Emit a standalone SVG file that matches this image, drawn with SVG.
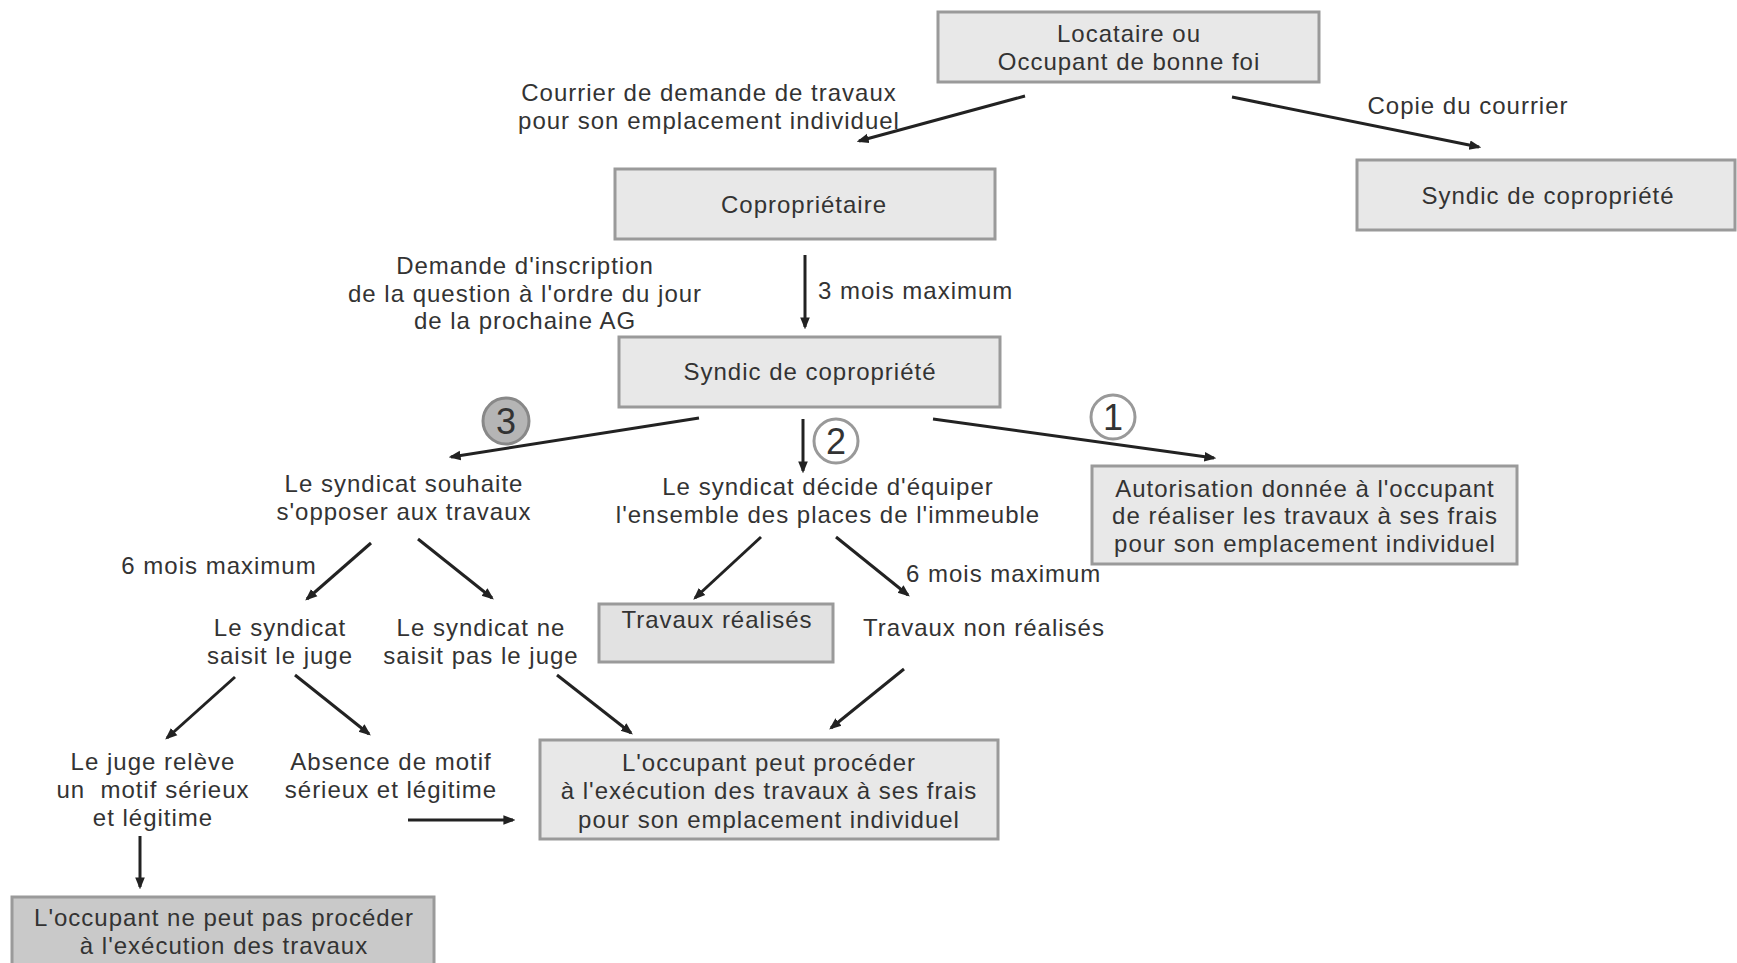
<svg xmlns="http://www.w3.org/2000/svg" width="1737" height="963" viewBox="0 0 1737 963">
<defs>
<marker id="ah" viewBox="0 0 10 10" refX="8" refY="5" markerWidth="4" markerHeight="4" orient="auto" markerUnits="strokeWidth">
<path d="M0,1 L10,5 L0,9 z" fill="#222"/>
</marker>
<style>
text{font-family:"Liberation Sans",Arial,sans-serif;font-size:24px;fill:#333;letter-spacing:1px;text-anchor:middle}
.box{fill:#e8e8e8;stroke:#9a9a9a;stroke-width:3}
.c line{stroke:#222;stroke-width:3;marker-end:url(#ah)}
.num{font-size:36px;letter-spacing:0}
</style>
</defs>
<rect width="1737" height="963" fill="#fff"/>

<g id="locataire"><rect class="box" x="938" y="12" width="381" height="70"/><text x="1129" y="42">Locataire ou</text><text x="1129" y="70">Occupant de bonne foi</text></g>
<g id="syndic-copie"><rect class="box" x="1357" y="160" width="378" height="70"/><text x="1548" y="204">Syndic de copropriété</text></g>
<g id="coproprietaire"><rect class="box" x="615" y="169" width="380" height="70"/><text x="804" y="213">Copropriétaire</text></g>
<g id="syndic"><rect class="box" x="619" y="337" width="381" height="70"/><text x="810" y="380">Syndic de copropriété</text></g>
<g id="autorisation"><rect class="box" x="1092" y="466" width="425" height="98"/><text x="1305" y="497">Autorisation donnée à l'occupant</text><text x="1305" y="524">de réaliser les travaux à ses frais</text><text x="1305" y="552">pour son emplacement individuel</text></g>
<g id="travaux-realises"><rect class="box" x="599" y="604" width="234" height="58" style="fill:#e2e2e2"/><text x="717" y="628">Travaux réalisés</text></g>
<g id="occupant-peut"><rect class="box" x="540" y="740" width="458" height="99"/><text x="769" y="771">L'occupant peut procéder</text><text x="769" y="799">à l'exécution des travaux à ses frais</text><text x="769" y="828">pour son emplacement individuel</text></g>
<g id="occupant-ne-peut"><rect class="box" x="12" y="897" width="422" height="70" style="fill:#c9c9c9"/><text x="224" y="926">L'occupant ne peut pas procéder</text><text x="224" y="954">à l'exécution des travaux</text></g>

<g id="souhaite"><text x="404" y="492">Le syndicat souhaite</text><text x="404" y="520">s'opposer aux travaux</text></g>
<g id="decide"><text x="828" y="495">Le syndicat décide d'équiper</text><text x="828" y="523">l'ensemble des places de l'immeuble</text></g>
<g id="saisit"><text x="280" y="636">Le syndicat</text><text x="280" y="664">saisit le juge</text></g>
<g id="ne-saisit"><text x="481" y="636">Le syndicat ne</text><text x="481" y="664">saisit pas le juge</text></g>
<g id="non-realises"><text x="984" y="636">Travaux non réalisés</text></g>
<g id="juge-releve"><text x="153" y="770">Le juge relève</text><text x="153" y="798" style="white-space:pre" xml:space="preserve">un  motif sérieux</text><text x="153" y="826">et légitime</text></g>
<g id="absence"><text x="391" y="770">Absence de motif</text><text x="391" y="798">sérieux et légitime</text></g>

<g id="badges">
<circle cx="506" cy="421" r="23" fill="#b5b5b5" stroke="#888" stroke-width="3"/><text class="num" x="506" y="434">3</text>
<circle cx="836" cy="441" r="22" fill="#fff" stroke="#999" stroke-width="3"/><text class="num" x="836" y="454">2</text>
<circle cx="1113" cy="417" r="22" fill="#fff" stroke="#999" stroke-width="3"/><text class="num" x="1113" y="430">1</text>
</g>

<g id="labels">
<text x="709" y="101">Courrier de demande de travaux</text>
<text x="709" y="129">pour son emplacement individuel</text>
<text x="1468" y="114">Copie du courrier</text>
<text x="525" y="274">Demande d'inscription</text>
<text x="525" y="302">de la question à l'ordre du jour</text>
<text x="525" y="329">de la prochaine AG</text>
<text x="818" y="299" style="text-anchor:start">3 mois maximum</text>
<text x="219" y="574">6 mois maximum</text>
<text x="906" y="582" style="text-anchor:start">6 mois maximum</text>
</g>

<g id="connectors" class="c">
<line x1="1025" y1="96" x2="859" y2="141"/>
<line x1="1232" y1="97" x2="1479" y2="147"/>
<line x1="805" y1="255" x2="805" y2="327"/>
<line x1="699" y1="418" x2="451" y2="457"/>
<line x1="803" y1="419" x2="803" y2="471"/>
<line x1="933" y1="419" x2="1214" y2="458"/>
<line x1="371" y1="543" x2="307" y2="599"/>
<line x1="418" y1="539" x2="492" y2="598"/>
<line x1="761" y1="537" x2="695" y2="598"/>
<line x1="836" y1="537" x2="908" y2="595"/>
<line x1="235" y1="677" x2="167" y2="738"/>
<line x1="295" y1="675" x2="369" y2="734"/>
<line x1="557" y1="675" x2="631" y2="733"/>
<line x1="904" y1="669" x2="831" y2="728"/>
<line x1="408" y1="820" x2="513" y2="820"/>
<line x1="140" y1="836" x2="140" y2="887"/>
</g>
</svg>
